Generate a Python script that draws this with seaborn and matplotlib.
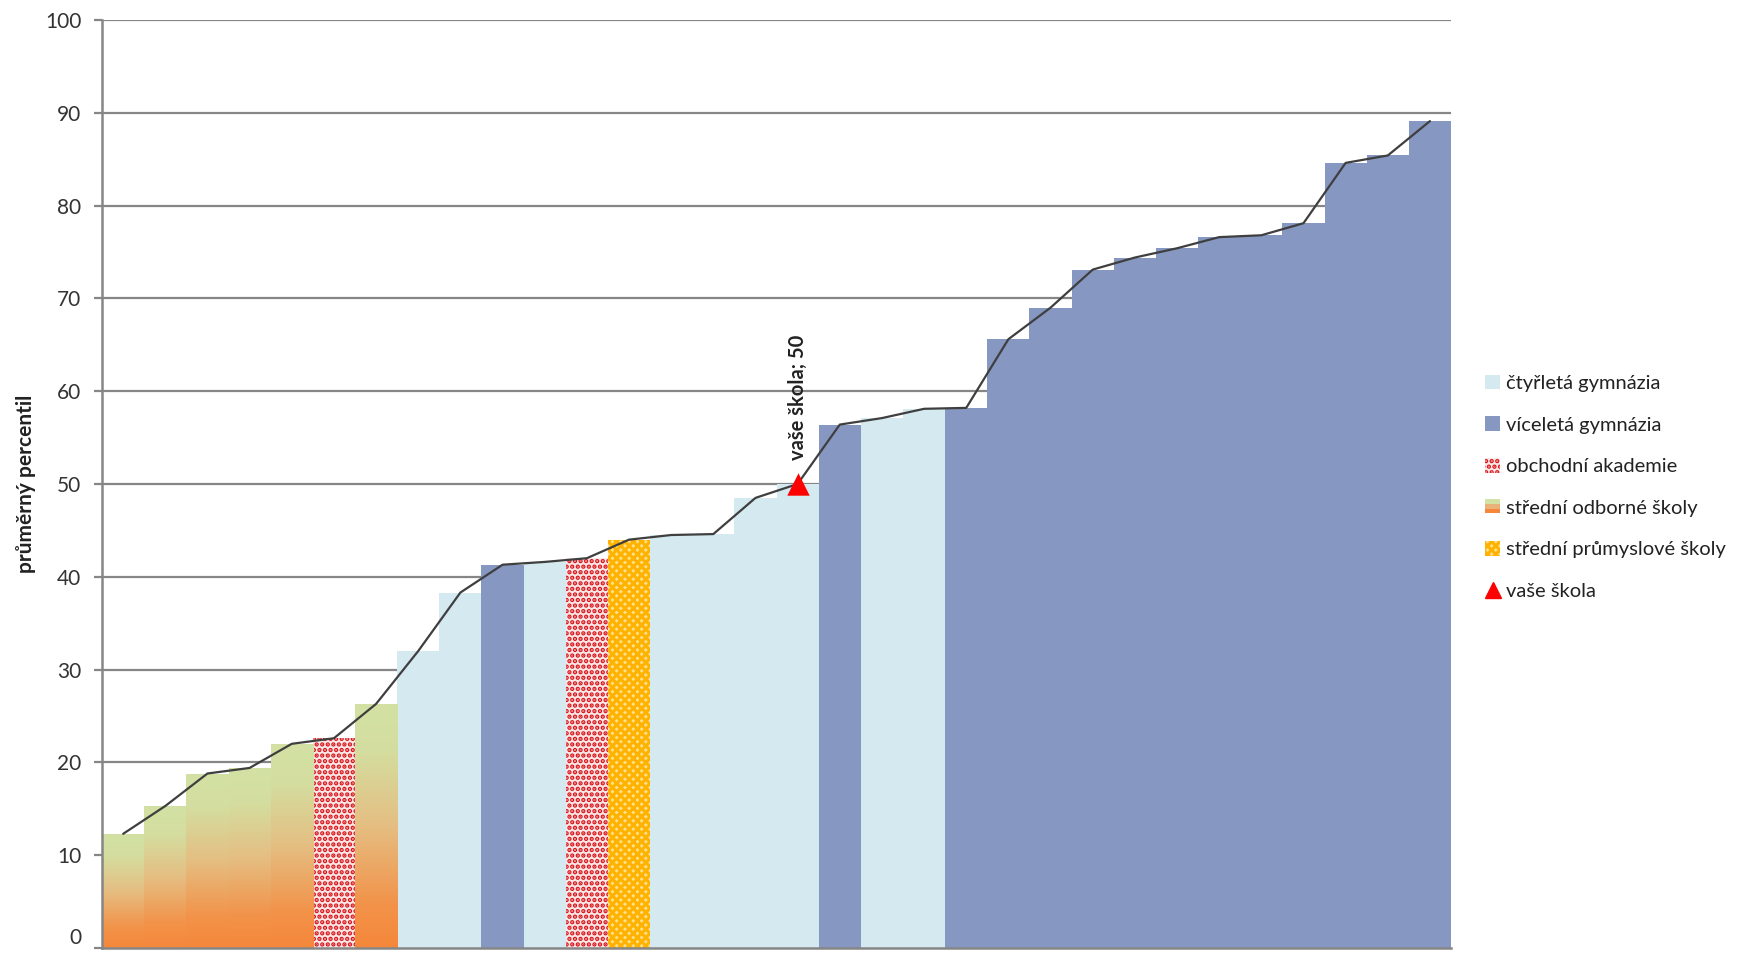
import numpy as np
import pandas as pd
import matplotlib
matplotlib.use("Agg")
import matplotlib.pyplot as plt
import seaborn as sns
from matplotlib.patches import Rectangle, Patch
from matplotlib.lines import Line2D
from matplotlib.colors import LinearSegmentedColormap
from matplotlib.legend_handler import HandlerBase

# ---------------- data ----------------
category_names = ["čtyřletá gymnázia", "víceletá gymnázia", "obchodní akademie",
                  "střední odborné školy", "střední průmyslové školy"]
school_label = "vaše škola"
y_label = "průměrný percentil"
y_ticks = [0, 10, 20, 30, 40, 50, 60, 70, 80, 90, 100]

# school type of each bar (index into category_names)
bar_types = [3, 3, 3, 3, 3, 2, 3, 0, 0, 1, 0, 2, 4, 0, 0, 0,
             0, 1, 0, 0, 1, 1, 1, 1, 1, 1, 1, 1, 1, 1, 1, 1]
bar_values = [12.3, 15.3, 18.8, 19.4, 22.0, 22.6, 26.3, 32.0, 38.3, 41.3, 41.6,
              42.0, 44.0, 44.5, 44.6, 48.5, 50.0, 56.4, 57.1, 58.1, 58.2, 65.6,
              69.0, 73.1, 74.4, 75.4, 76.6, 76.8, 78.1, 84.6, 85.4, 89.1]
school_position = 16
school_value = 50

# ---------------- style ----------------
c_ctyr = "#D4EAF0"
c_vice = "#8697C2"
c_oa = "#D7141A"
c_oa_face = "#FBE6E6"
c_sps_face = "#FFE08C"
c_sps_hatch = "#FFB300"
grad_cmap = LinearSegmentedColormap.from_list(
    "sos", [(0.0, "#F5873A"), (0.18, "#F2934A"), (0.5, "#E5BE82"),
            (0.8, "#D4DD9F"), (1.0, "#D2E2A4")])
grid_c = "#868686"

sns.set_theme(style="white")
plt.rcParams["font.family"] = ["Lato", "DejaVu Sans"]
plt.rcParams["hatch.linewidth"] = 2.2

fig = plt.figure(figsize=(17.39, 9.56), dpi=100)
ax = fig.add_axes([0.0587, 0.0084, 0.7757, 0.9707])

df = pd.DataFrame({"pos": range(len(bar_values)), "value": bar_values,
                   "typ": [category_names[t] for t in bar_types]})
palette = {category_names[0]: c_ctyr, category_names[1]: c_vice,
           category_names[2]: c_oa_face, category_names[3]: "#E5BE82",
           category_names[4]: c_sps_face}
sns.barplot(data=df, x="pos", y="value", hue="typ", palette=palette,
            dodge=False, width=1.0, legend=False, ax=ax, saturation=1,
            linewidth=0, zorder=2)

grad = np.linspace(0, 1, 256).reshape(-1, 1)
for p in list(ax.patches):
    i = int(round(p.get_x() + p.get_width() / 2))
    if i < 0 or i >= len(bar_types):
        continue
    t = bar_types[i]
    if t == 3:
        p.set_facecolor("none")
        im = ax.imshow(grad, cmap=grad_cmap, origin="lower", aspect="auto",
                       extent=(p.get_x(), p.get_x() + p.get_width(), 0, p.get_height()),
                       zorder=2)
        im.set_clip_path(p)
    elif t == 2:
        p.set_facecolor(c_oa_face)
        p.set_edgecolor(c_oa)
        p.set_hatch("...")
        p.set_linewidth(0)
    elif t == 4:
        p.set_facecolor(c_sps_face)
        p.set_edgecolor(c_sps_hatch)
        p.set_hatch("xxxx")
        p.set_linewidth(0)

sns.lineplot(x=df["pos"], y=df["value"], color="#3F3F3F", lw=1.6, ax=ax, zorder=4)
ax.scatter([school_position], [school_value], marker="^", s=260, color="#FF0000",
           zorder=5, linewidths=0)
ax.annotate(f"{school_label}; {school_value}", xy=(school_position, school_value),
            xytext=(0, 17), textcoords="offset points", rotation=90,
            ha="center", va="bottom", fontweight="bold", fontsize=14.5, color="#222222")

ax.set_xlim(-0.5, len(bar_values) - 0.5)
ax.set_ylim(0, 100)
ax.set_yticks(y_ticks)
ax.set_xticks([])
ax.set_xlabel("")
ax.yaxis.grid(True, color=grid_c, lw=1.6)
ax.set_axisbelow(True)
for s in ["top", "right"]:
    ax.spines[s].set_visible(False)
for s in ["left", "bottom"]:
    ax.spines[s].set_color(grid_c)
    ax.spines[s].set_linewidth(1.8)
ax.tick_params(axis="y", which="both", left=True, length=6, width=1.6, color=grid_c,
               labelsize=15, labelcolor="#333333", pad=9)
# keep the bottom "0" label inside the picture
ax.get_yticklabels()[0].set_verticalalignment("bottom")
ax.set_ylabel(y_label, fontsize=15, fontweight="bold", color="#222222")
ax.yaxis.set_label_coords(-0.049, 0.5)


class GradHandler(HandlerBase):
    def create_artists(self, legend, orig_handle, xd, yd, w, h, fontsize, trans):
        cols = ["#F5873A", "#E8B27A", "#D2E2A4"]
        arts = []
        for k, c in enumerate(cols):
            r = Rectangle((xd, yd + k * h / 3), w, h / 3, facecolor=c,
                          edgecolor="none", transform=trans)
            arts.append(r)
        return arts


handles = [
    Patch(facecolor=c_ctyr, edgecolor="none"),
    Patch(facecolor=c_vice, edgecolor="none"),
    Patch(facecolor=c_oa_face, edgecolor=c_oa, hatch="...", linewidth=0),
    Rectangle((0, 0), 1, 1),
    Patch(facecolor=c_sps_face, edgecolor=c_sps_hatch, hatch="xxxx", linewidth=0),
    Line2D([], [], marker="^", color="#FF0000", linestyle="none", markersize=11),
]
labels = category_names + [school_label]
leg = fig.legend(handles, labels, loc="upper left", bbox_to_anchor=(0.8437, 0.627),
                 frameon=False, fontsize=14.5, labelspacing=1.2,
                 handlelength=0.75, handleheight=0.75, handletextpad=0.3,
                 handler_map={handles[3]: GradHandler()})
for t in leg.get_texts():
    t.set_color("#222222")

fig.savefig("out.png", dpi=100)
